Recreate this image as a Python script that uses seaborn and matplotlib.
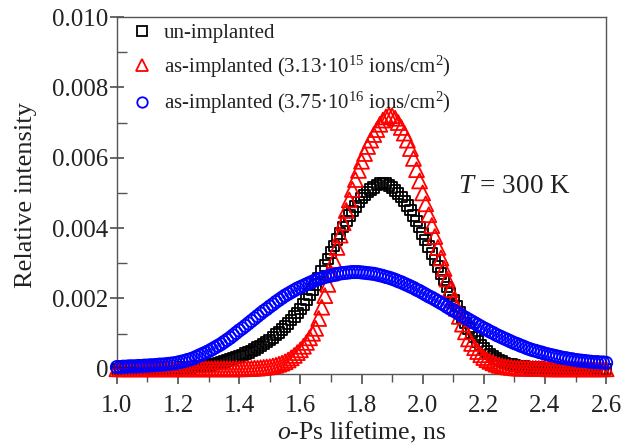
import numpy as np
import pandas as pd
import matplotlib
matplotlib.use("Agg")
import matplotlib.pyplot as plt
import seaborn as sns
from matplotlib.lines import Line2D
from matplotlib.ticker import MultipleLocator, FuncFormatter

# o-Ps lifetime grid (ns)
lifetime = np.round(np.linspace(1.0, 2.6, 161), 2)

unimplanted = [
    0.00000, 0.00000, 0.00000, 0.00000, 0.00000, 0.00000, 0.00000, 0.00000, 0.00000, 0.00001,
    0.00001, 0.00001, 0.00001, 0.00001, 0.00001, 0.00001, 0.00001, 0.00002, 0.00002, 0.00002,
    0.00002, 0.00003, 0.00003, 0.00004, 0.00004, 0.00005, 0.00006, 0.00007, 0.00008, 0.00009,
    0.00010, 0.00012, 0.00014, 0.00016, 0.00018, 0.00020, 0.00023, 0.00026, 0.00029, 0.00032,
    0.00035, 0.00039, 0.00043, 0.00047, 0.00051, 0.00055, 0.00060, 0.00065, 0.00071, 0.00076,
    0.00082, 0.00089, 0.00097, 0.00104, 0.00112, 0.00120, 0.00129, 0.00139, 0.00149, 0.00159,
    0.00170, 0.00183, 0.00197, 0.00211, 0.00225, 0.00240, 0.00258, 0.00276, 0.00294, 0.00312,
    0.00330, 0.00349, 0.00367, 0.00385, 0.00403, 0.00420, 0.00435, 0.00449, 0.00462, 0.00474,
    0.00485, 0.00494, 0.00502, 0.00509, 0.00516, 0.00522, 0.00526, 0.00528, 0.00526, 0.00521,
    0.00515, 0.00507, 0.00498, 0.00488, 0.00477, 0.00465, 0.00451, 0.00436, 0.00420, 0.00403,
    0.00385, 0.00366, 0.00347, 0.00328, 0.00309, 0.00290, 0.00271, 0.00252, 0.00233, 0.00214,
    0.00195, 0.00178, 0.00161, 0.00145, 0.00130, 0.00115, 0.00102, 0.00090, 0.00078, 0.00068,
    0.00058, 0.00050, 0.00042, 0.00036, 0.00030, 0.00025, 0.00021, 0.00017, 0.00014, 0.00012,
    0.00010, 0.00008, 0.00007, 0.00006, 0.00005, 0.00004, 0.00003, 0.00003, 0.00003, 0.00002,
    0.00002, 0.00002, 0.00002, 0.00002, 0.00001, 0.00001, 0.00001, 0.00001, 0.00001, 0.00001,
    0.00001, 0.00001, 0.00001, 0.00001, 0.00001, 0.00000, 0.00000, 0.00000, 0.00000, 0.00000,
    0.00000,
]

implanted_315 = [
    0.00000, 0.00000, 0.00000, 0.00000, 0.00000, 0.00000, 0.00000, 0.00000, 0.00000, 0.00000,
    0.00000, 0.00000, 0.00000, 0.00000, 0.00000, 0.00000, 0.00000, 0.00000, 0.00000, 0.00000,
    0.00000, 0.00000, 0.00000, 0.00000, 0.00000, 0.00000, 0.00000, 0.00000, 0.00000, 0.00000,
    0.00000, 0.00000, 0.00000, 0.00000, 0.00000, 0.00000, 0.00000, 0.00000, 0.00000, 0.00000,
    0.00000, 0.00000, 0.00001, 0.00001, 0.00001, 0.00002, 0.00002, 0.00003, 0.00004, 0.00005,
    0.00006, 0.00008, 0.00010, 0.00013, 0.00016, 0.00020, 0.00025, 0.00031, 0.00038, 0.00046,
    0.00054, 0.00064, 0.00075, 0.00088, 0.00101, 0.00115, 0.00143, 0.00175, 0.00208, 0.00240,
    0.00272, 0.00308, 0.00345, 0.00380, 0.00415, 0.00450, 0.00480, 0.00510, 0.00538, 0.00564,
    0.00590, 0.00612, 0.00632, 0.00650, 0.00666, 0.00680, 0.00695, 0.00707, 0.00716, 0.00721,
    0.00719, 0.00712, 0.00700, 0.00686, 0.00670, 0.00650, 0.00626, 0.00598, 0.00566, 0.00534,
    0.00500, 0.00469, 0.00438, 0.00407, 0.00376, 0.00345, 0.00315, 0.00285, 0.00255, 0.00225,
    0.00195, 0.00172, 0.00149, 0.00127, 0.00105, 0.00085, 0.00072, 0.00060, 0.00049, 0.00040,
    0.00032, 0.00026, 0.00021, 0.00017, 0.00013, 0.00010, 0.00008, 0.00006, 0.00005, 0.00004,
    0.00003, 0.00002, 0.00002, 0.00002, 0.00002, 0.00002, 0.00001, 0.00001, 0.00001, 0.00001,
    0.00001, 0.00000, 0.00000, 0.00000, 0.00000, 0.00000, 0.00000, 0.00000, 0.00000, 0.00000,
    0.00000, 0.00000, 0.00000, 0.00000, 0.00000, 0.00000, 0.00000, 0.00000, 0.00000, 0.00000,
    0.00000,
]

implanted_316 = [
    0.00005, 0.00005, 0.00006, 0.00006, 0.00007, 0.00007, 0.00007, 0.00008, 0.00008, 0.00009,
    0.00009, 0.00010, 0.00010, 0.00011, 0.00012, 0.00012, 0.00013, 0.00014, 0.00015, 0.00016,
    0.00018, 0.00020, 0.00022, 0.00025, 0.00027, 0.00030, 0.00034, 0.00038, 0.00042, 0.00046,
    0.00050, 0.00055, 0.00060, 0.00065, 0.00070, 0.00076, 0.00082, 0.00088, 0.00095, 0.00102,
    0.00109, 0.00115, 0.00122, 0.00129, 0.00136, 0.00143, 0.00150, 0.00157, 0.00164, 0.00170,
    0.00177, 0.00183, 0.00190, 0.00196, 0.00202, 0.00208, 0.00213, 0.00218, 0.00223, 0.00228,
    0.00232, 0.00236, 0.00240, 0.00244, 0.00248, 0.00252, 0.00255, 0.00258, 0.00261, 0.00263,
    0.00265, 0.00267, 0.00269, 0.00271, 0.00272, 0.00273, 0.00274, 0.00275, 0.00275, 0.00275,
    0.00274, 0.00273, 0.00272, 0.00271, 0.00270, 0.00268, 0.00266, 0.00264, 0.00261, 0.00259,
    0.00256, 0.00253, 0.00249, 0.00246, 0.00242, 0.00238, 0.00234, 0.00230, 0.00225, 0.00221,
    0.00216, 0.00211, 0.00206, 0.00202, 0.00197, 0.00192, 0.00187, 0.00182, 0.00176, 0.00171,
    0.00166, 0.00161, 0.00156, 0.00150, 0.00145, 0.00140, 0.00135, 0.00130, 0.00125, 0.00120,
    0.00115, 0.00111, 0.00106, 0.00102, 0.00097, 0.00093, 0.00089, 0.00085, 0.00081, 0.00077,
    0.00073, 0.00070, 0.00066, 0.00063, 0.00059, 0.00056, 0.00053, 0.00051, 0.00048, 0.00046,
    0.00043, 0.00041, 0.00039, 0.00037, 0.00035, 0.00033, 0.00031, 0.00030, 0.00028, 0.00027,
    0.00025, 0.00024, 0.00023, 0.00022, 0.00021, 0.00020, 0.00019, 0.00019, 0.00018, 0.00018,
    0.00017,
]

labels = [
    "un-implanted",
    "as-implanted (3.13·10$^{15}$ ions/cm$^{2}$)",
    "as-implanted (3.75·10$^{16}$ ions/cm$^{2}$)",
]
colors = ["black", "red", "blue"]
markers = ["s", "^", "o"]
sizes = [58, 115, 78]

sns.set_theme(style="white")
plt.rcParams["font.family"] = ["Liberation Serif", "DejaVu Serif"]
plt.rcParams["mathtext.fontset"] = "custom"
plt.rcParams["mathtext.rm"] = "Liberation Serif"
plt.rcParams["mathtext.it"] = "Liberation Serif:italic"

fig = plt.figure(figsize=(6.32, 4.48), dpi=100)
ax = fig.add_axes([0.185, 0.165, 0.774, 0.797])

series = [unimplanted, implanted_315, implanted_316]
for vals, lab, c, m, s in zip(series, labels, colors, markers, sizes):
    df = pd.DataFrame({"x": lifetime, "y": vals})
    sns.scatterplot(data=df, x="x", y="y", ax=ax, marker=m, s=s,
                    facecolor="none", edgecolor=c, linewidth=1.3,
                    legend=False, zorder=3, clip_on=False)

ax.set_xlim(1.0, 2.6)
ax.set_ylim(-0.00015, 0.010)
ax.xaxis.set_major_locator(MultipleLocator(0.2))
ax.xaxis.set_minor_locator(MultipleLocator(0.1))
ax.yaxis.set_major_locator(MultipleLocator(0.002))
ax.yaxis.set_minor_locator(MultipleLocator(0.001))
ax.xaxis.set_major_formatter(FuncFormatter(lambda v, p: f"{v:.1f}"))
ax.yaxis.set_major_formatter(FuncFormatter(lambda v, p: "0" if abs(v) < 1e-9 else f"{v:.3f}"))

spine_c = "#555555"
txt_c = "#222222"
for sp in ax.spines.values():
    sp.set_color(spine_c)
    sp.set_linewidth(1.0)
    sp.set_visible(True)

ax.tick_params(axis="x", which="both", direction="out", bottom=True, top=False,
               color=spine_c, labelsize=18, pad=8, labelcolor=txt_c)
ax.tick_params(axis="x", which="major", length=7)
ax.tick_params(axis="x", which="minor", length=6)
ax.tick_params(axis="y", which="major", direction="inout", left=True, right=False,
               length=10, color=spine_c, labelsize=18, pad=1, labelcolor=txt_c)
ax.tick_params(axis="y", which="minor", direction="in", left=True, length=7, color=spine_c)

ax.set_xlabel("$\\mathit{o}$-Ps lifetime, ns", fontsize=18.5, color=txt_c, labelpad=2)
ax.set_ylabel("Relative intensity", fontsize=19, color=txt_c, labelpad=11)

ax.text(0.697, 0.525, "$\\mathit{T}$ = 300 K", transform=ax.transAxes,
        fontsize=19.5, color=txt_c, va="center", ha="left")

handles = [
    Line2D([], [], linestyle="none", marker=m, markersize=ms, markerfacecolor="none",
           markeredgecolor=c, markeredgewidth=1.3)
    for m, c, ms in zip(markers, colors, [6.5, 9, 7.5])
]
leg = ax.legend(handles, labels, loc="upper left", frameon=False, fontsize=15,
                labelspacing=0.5, handletextpad=0.25, handlelength=1.6,
                borderaxespad=0.0, bbox_to_anchor=(0.0, 1.005))
for t in leg.get_texts():
    t.set_color(txt_c)

fig.savefig("out.png", dpi=100)
